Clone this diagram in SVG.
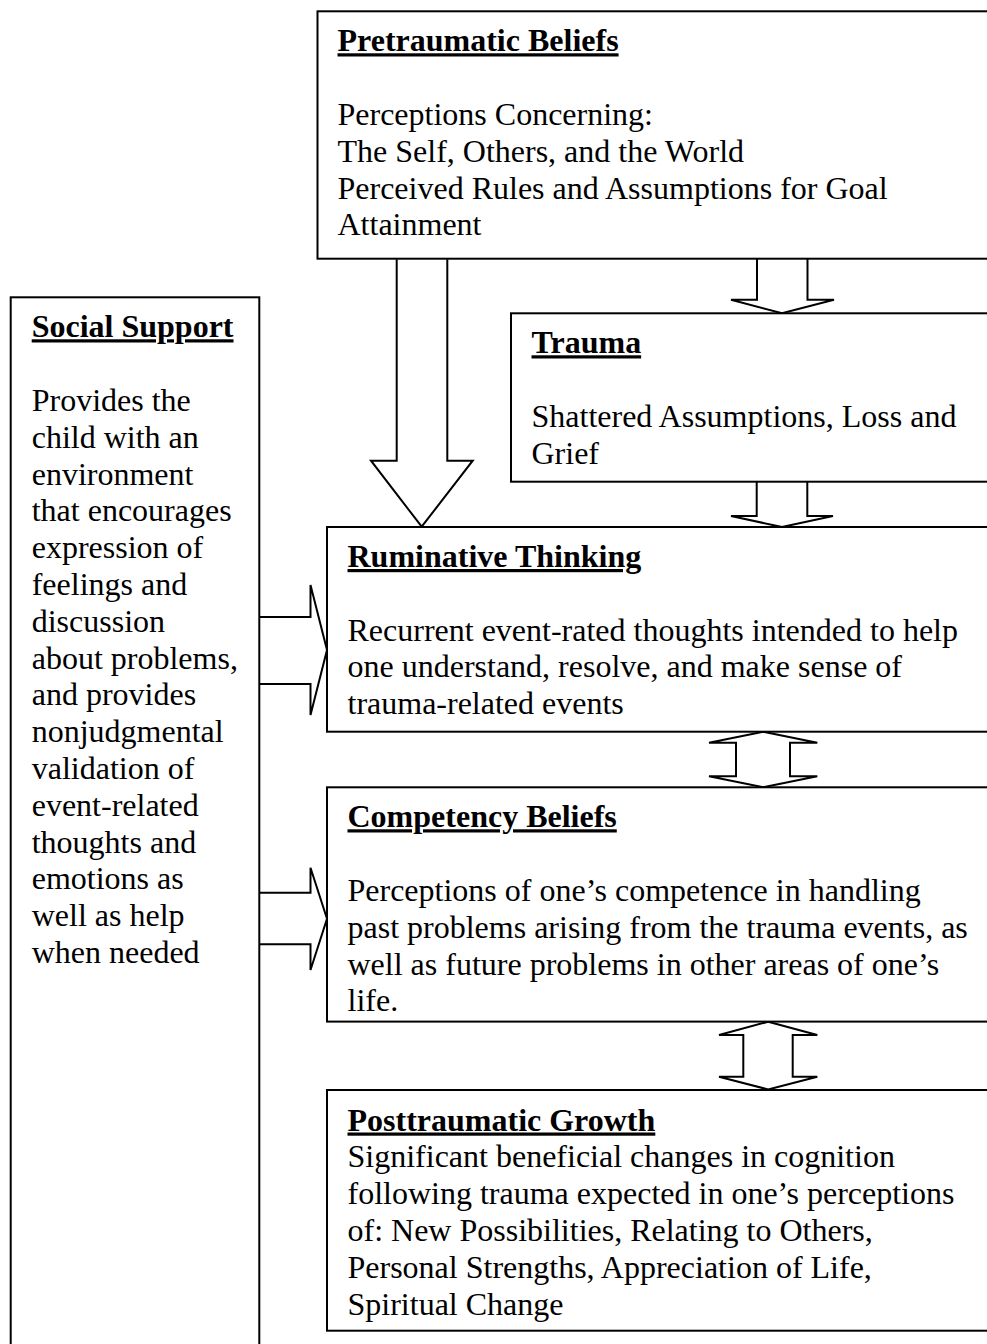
<svg xmlns="http://www.w3.org/2000/svg" width="987" height="1344" viewBox="0 0 987 1344">
<style>
.box{fill:#fff;stroke:#000;stroke-width:2}
.arr{fill:#fff;stroke:#000;stroke-width:2;stroke-linejoin:miter}
text{font-family:"Liberation Serif","Times New Roman",serif;font-size:32px;fill:#000}
.h{font-weight:bold;text-decoration:underline}
</style>
<rect width="987" height="1344" fill="#fff"/>
<g id="connectors">
<path class="arr" d="M396.7,259.3 V460.7 H371 L421.7,526.7 L472.7,460.7 H447.3 V259.3"/>
<path class="arr" d="M757,258.7 V299.7 H731 L782,313.3 L834,299.7 H807.5 V258.7"/>
<path class="arr" d="M756.7,481.7 V516 H731 L782,527 L833,516 H807.3 V481.7"/>
<path class="arr" d="M763.2,731.7 L817.3,742.7 H790 V776.3 H817.3 L763.2,787.3 L709,776.3 H736 V742.7 H709 Z"/>
<path class="arr" d="M768.2,1021.7 L817.3,1035 H792.7 V1076.7 H817.3 L768.2,1089.5 L719,1076.7 H743.3 V1035 H719 Z"/>
<path class="arr" d="M259.3,617 H310.5 V585 L327,650 L310.5,715 V684 H259.3"/>
<path class="arr" d="M259.3,892.7 H310.5 V867.7 L327,918.8 L310.5,970 V944.3 H259.3"/>
</g>
<g id="pretraumatic">
<rect class="box" x="317.5" y="11.3" width="690" height="247.4"/>
<text class="h" x="337.5" y="51.3">Pretraumatic Beliefs</text>
<text><tspan x="337.5" y="124.9">Perceptions Concerning:</tspan><tspan x="337.5" y="161.7">The Self, Others, and the World</tspan><tspan x="337.5" y="198.5">Perceived Rules and Assumptions for Goal</tspan><tspan x="337.5" y="235.3">Attainment</tspan></text>
</g>
<g id="social-support">
<rect class="box" x="10.7" y="297.3" width="248.6" height="1060"/>
<text class="h" x="31.7" y="337.3">Social Support</text>
<text><tspan x="31.7" y="410.9">Provides the</tspan><tspan x="31.7" y="447.7">child with an</tspan><tspan x="31.7" y="484.5">environment</tspan><tspan x="31.7" y="521.3">that encourages</tspan><tspan x="31.7" y="558.1">expression of</tspan><tspan x="31.7" y="594.9">feelings and</tspan><tspan x="31.7" y="631.7">discussion</tspan><tspan x="31.7" y="668.5">about problems,</tspan><tspan x="31.7" y="705.3">and provides</tspan><tspan x="31.7" y="742.1">nonjudgmental</tspan><tspan x="31.7" y="778.9">validation of</tspan><tspan x="31.7" y="815.7">event-related</tspan><tspan x="31.7" y="852.5">thoughts and</tspan><tspan x="31.7" y="889.3">emotions as</tspan><tspan x="31.7" y="926.1">well as help</tspan><tspan x="31.7" y="962.9">when needed</tspan></text>
</g>
<g id="trauma">
<rect class="box" x="511" y="313.3" width="500" height="168.4"/>
<text class="h" x="531.5" y="353.3">Trauma</text>
<text><tspan x="531.5" y="426.9">Shattered Assumptions, Loss and</tspan><tspan x="531.5" y="463.7">Grief</tspan></text>
</g>
<g id="ruminative">
<rect class="box" x="327" y="527" width="680" height="204.7"/>
<text class="h" x="347.5" y="567">Ruminative Thinking</text>
<text><tspan x="347.5" y="640.6">Recurrent event-rated thoughts intended to help</tspan><tspan x="347.5" y="677.4">one understand, resolve, and make sense of</tspan><tspan x="347.5" y="714.2">trauma-related events</tspan></text>
</g>
<g id="competency">
<rect class="box" x="327" y="787.3" width="680" height="234.3"/>
<text class="h" x="347.5" y="827.3">Competency Beliefs</text>
<text><tspan x="347.5" y="900.9">Perceptions of one’s competence in handling</tspan><tspan x="347.5" y="937.7">past problems arising from the trauma events, as</tspan><tspan x="347.5" y="974.5">well as future problems in other areas of one’s</tspan><tspan x="347.5" y="1011.3">life.</tspan></text>
</g>
<g id="posttraumatic">
<rect class="box" x="327" y="1090" width="680" height="240.7"/>
<text class="h" x="347.5" y="1130.5">Posttraumatic Growth</text>
<text><tspan x="347.5" y="1167.3">Significant beneficial changes in cognition</tspan><tspan x="347.5" y="1204.1">following trauma expected in one’s perceptions</tspan><tspan x="347.5" y="1240.9">of: New Possibilities, Relating to Others,</tspan><tspan x="347.5" y="1277.7">Personal Strengths, Appreciation of Life,</tspan><tspan x="347.5" y="1314.5">Spiritual Change</tspan></text>
</g>
</svg>
